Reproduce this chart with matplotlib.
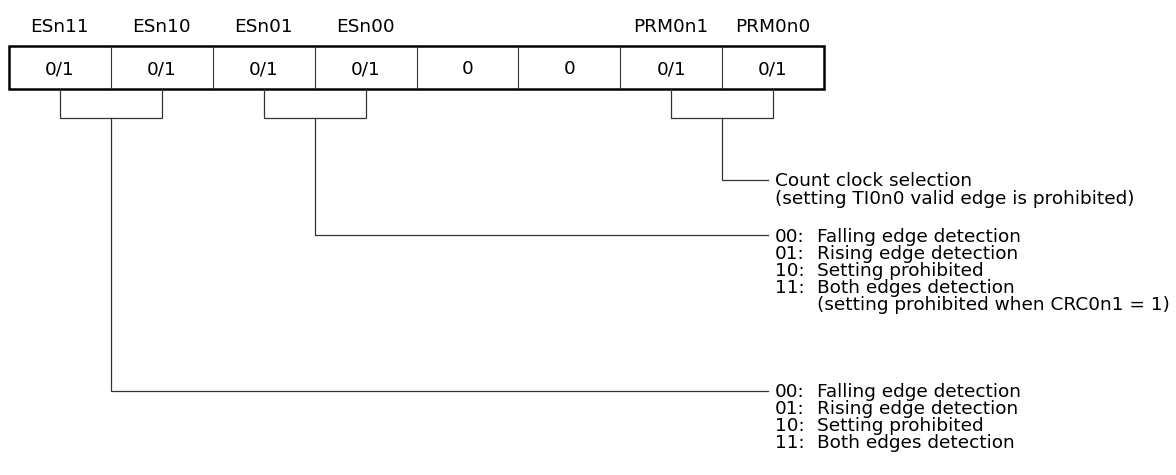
import matplotlib
matplotlib.use("Agg")
import matplotlib.pyplot as plt

# ---- data ----
bit_names = ["ESn11", "ESn10", "ESn01", "ESn00", "", "", "PRM0n1", "PRM0n0"]
bit_values = ["0/1", "0/1", "0/1", "0/1", "0", "0", "0/1", "0/1"]

# groups: (first bit index, row of first description line, list of (code, text))
group_bits = [6, 2, 0]
group_rows = [0, 3.25, 12.4]
group_lines = [
    [("", "Count clock selection"),
     ("", "(setting TI0n0 valid edge is prohibited)")],
    [("00:", "Falling edge detection"),
     ("01:", "Rising edge detection"),
     ("10:", "Setting prohibited"),
     ("11:", "Both edges detection"),
     ("", "(setting prohibited when CRC0n1 = 1)")],
    [("00:", "Falling edge detection"),
     ("01:", "Rising edge detection"),
     ("10:", "Setting prohibited"),
     ("11:", "Both edges detection")],
]

W, H = 1176, 475
fig = plt.figure(figsize=(W / 100, H / 100), dpi=100)
ax = fig.add_axes([0, 0, 1, 1])
ax.set_xlim(0, W)
ax.set_ylim(H, 0)
ax.axis("off")

FONT = "DejaVu Sans"
FS = 13.3

# register layout
x0, x1 = 9, 824
ytop, ybot = 46, 89
n = len(bit_names)
cw = (x1 - x0) / n
line_col = "#333333"

for i in range(1, n):
    ax.plot([x0 + i * cw] * 2, [ytop, ybot], color=line_col, lw=0.8,
            solid_capstyle="butt")
ax.add_patch(plt.Rectangle((x0, ytop), x1 - x0, ybot - ytop, fill=False,
                           edgecolor="black", lw=1.8, joinstyle="miter"))

for i, (nm, v) in enumerate(zip(bit_names, bit_values)):
    cx = x0 + (i + 0.5) * cw
    if nm:
        ax.text(cx, 26 + 6.5, nm, ha="center", va="baseline",
                fontsize=FS, family=FONT, color="black")
    ax.text(cx, (ytop + ybot) / 2 + 6.5, v, ha="center", va="baseline",
            fontsize=FS, family=FONT, color="black")

# brackets and descriptions
bracket_y = 118
first_y = 180
line_h = 17
line_end = 768
code_x = 775
desc_x = 817

for b, row, lines in zip(group_bits, group_rows, group_lines):
    xa = x0 + (b + 0.5) * cw
    xb = x0 + (b + 1.5) * cw
    xm = x0 + (b + 1) * cw
    yt = first_y + row * line_h
    ax.plot([xa, xa, xb, xb], [ybot, bracket_y, bracket_y, ybot],
            color=line_col, lw=0.9, solid_joinstyle="miter")
    ax.plot([xm, xm, line_end], [bracket_y, yt, yt], color=line_col,
            lw=0.9, solid_joinstyle="miter")
    for k, (code, desc) in enumerate(lines):
        y = yt + k * line_h + 6.5
        if code:
            ax.text(code_x, y, code, ha="left", va="baseline",
                    fontsize=FS, family=FONT, color="black")
            ax.text(desc_x, y, desc, ha="left", va="baseline",
                    fontsize=FS, family=FONT, color="black")
        else:
            tx = code_x if b == 6 else desc_x
            ax.text(tx, y, desc, ha="left", va="baseline",
                    fontsize=FS, family=FONT, color="black")

fig.savefig("out.png", dpi=100, facecolor="white")
